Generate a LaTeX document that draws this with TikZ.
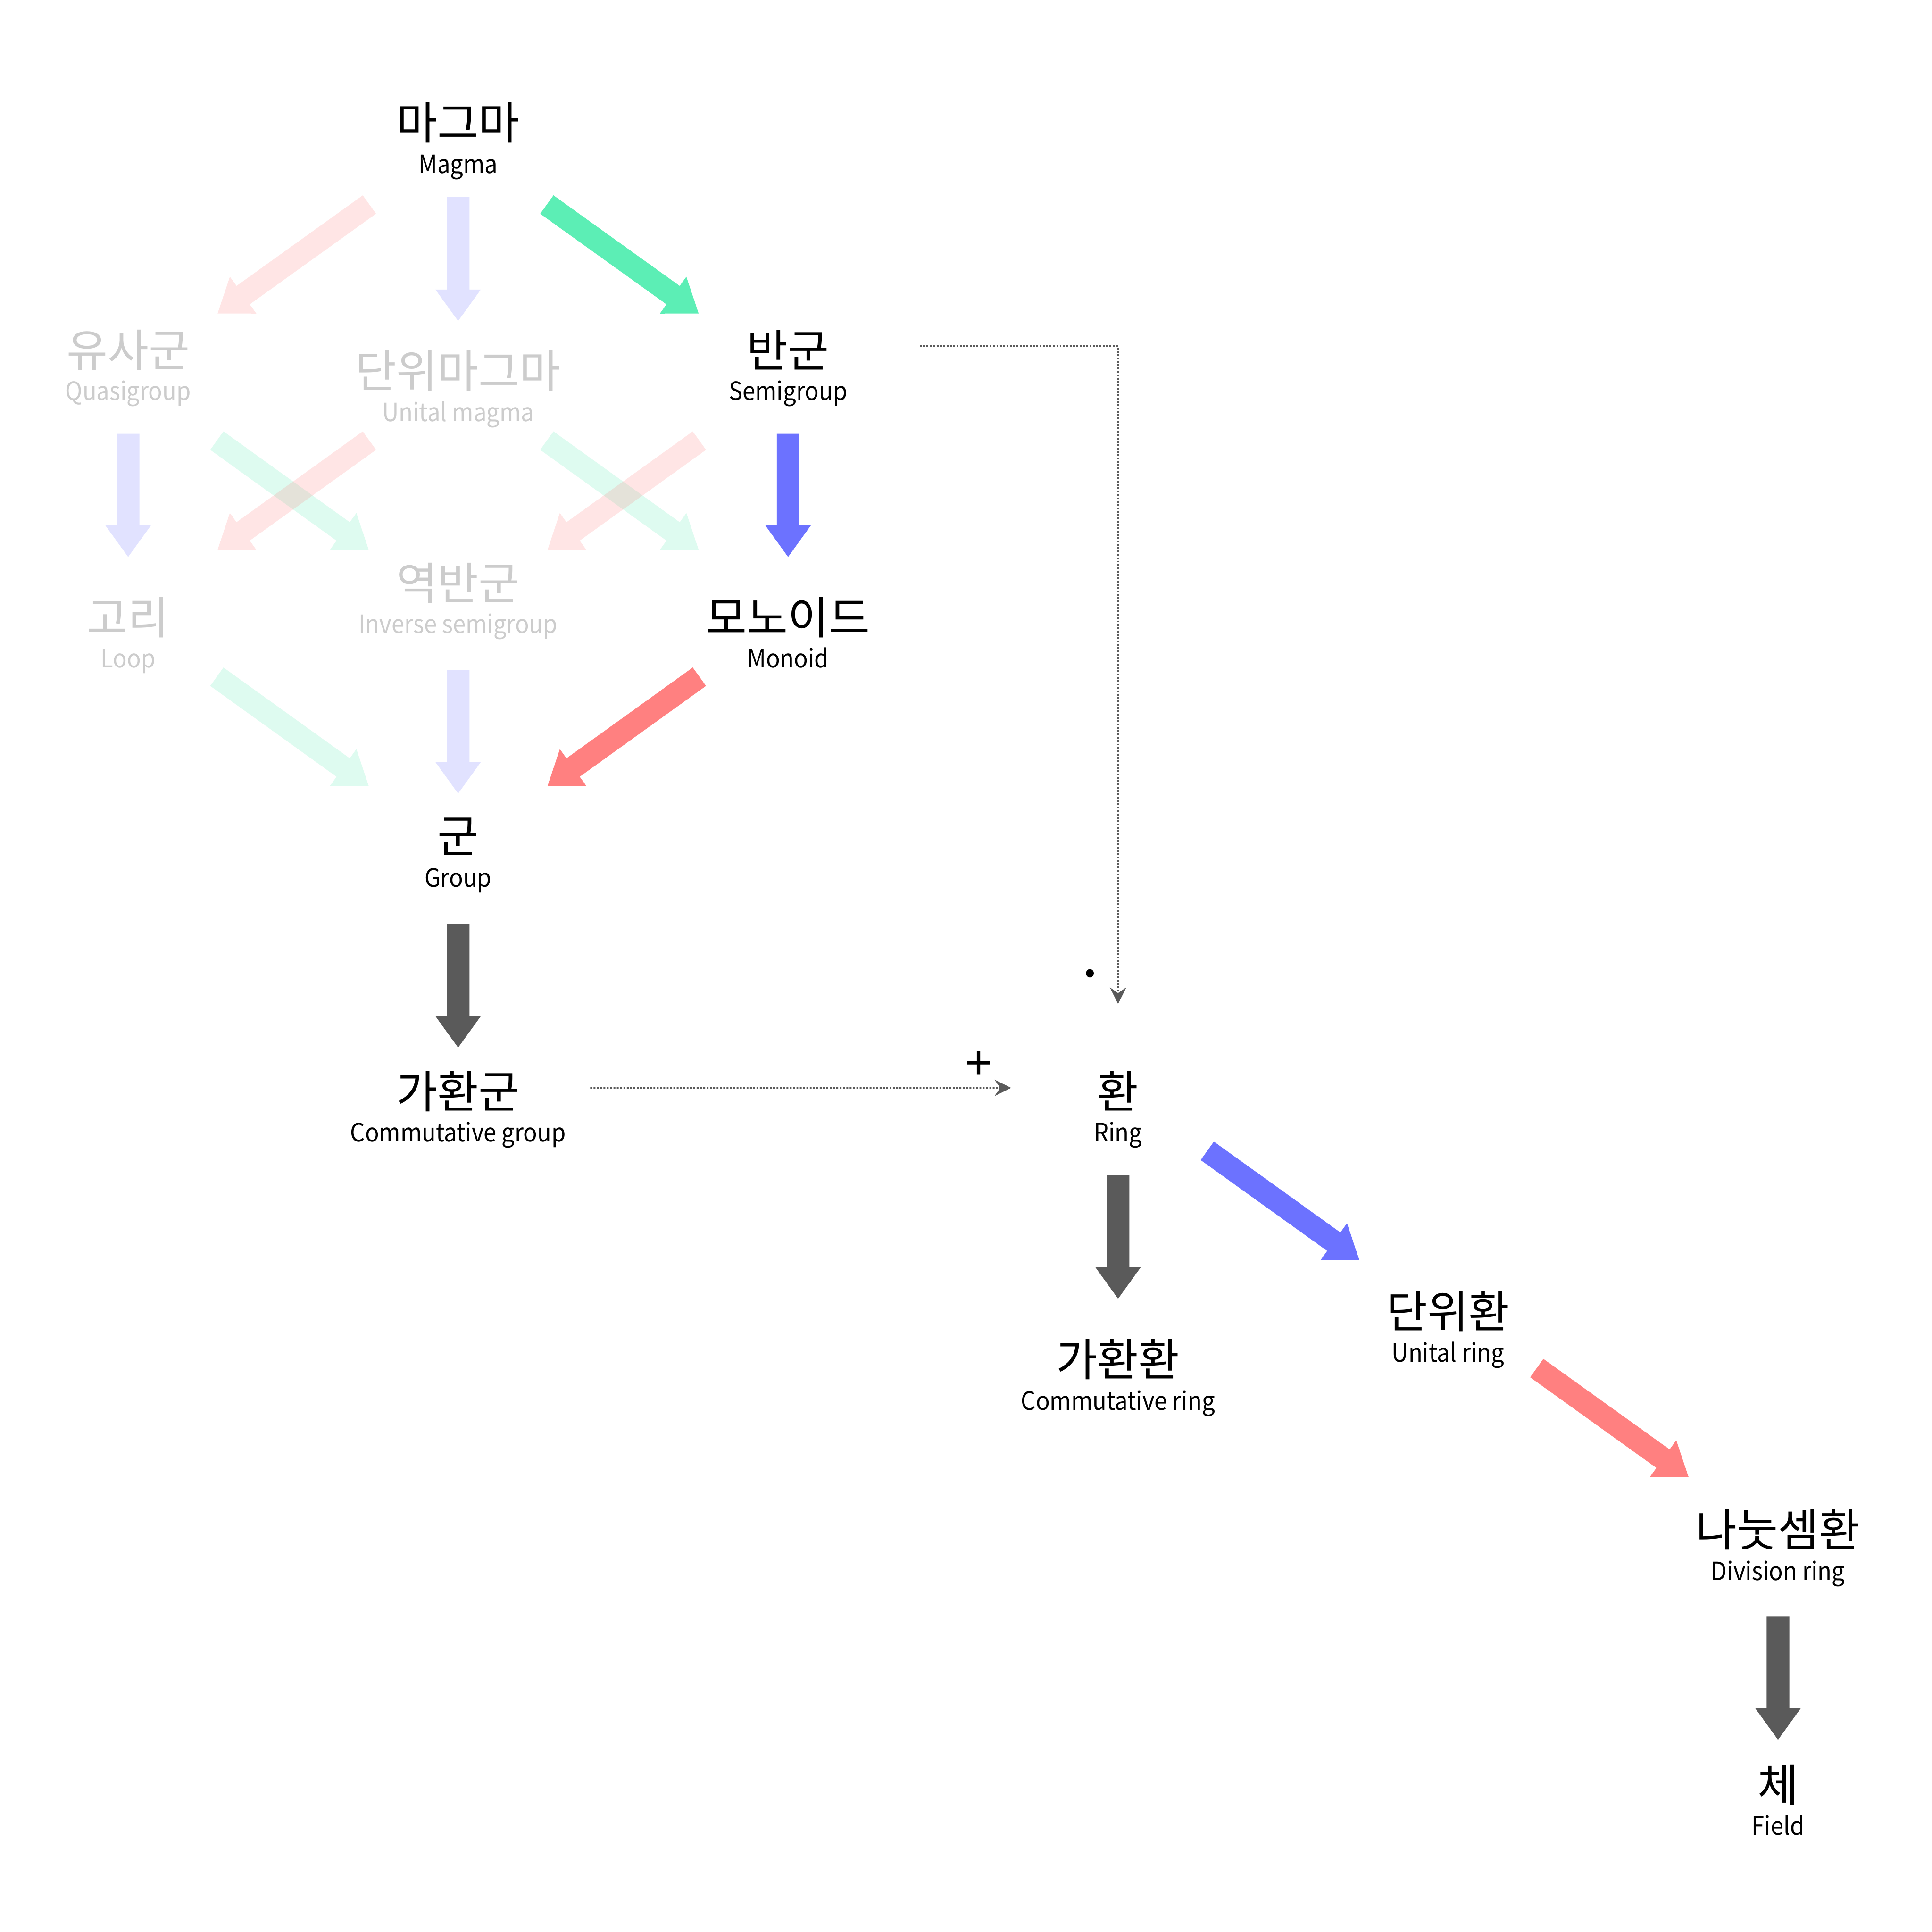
\documentclass[tikz,border=0pt]{standalone}
\usepackage{fontspec}
\setmainfont{Noto Sans CJK KR}
\newfontfamily\enfont[FakeStretch=0.915]{Noto Sans CJK KR}
\usetikzlibrary{calc,arrows.meta}
\definecolor{cred}{RGB}{255,128,128}
\definecolor{cblue}{RGB}{108,114,255}
\definecolor{cgreen}{RGB}{92,238,181}
\definecolor{cgray}{RGB}{90,90,90}
\definecolor{ctext}{RGB}{204,204,204}
\newcommand\fatarrow[3]{%
  \coordinate (fa-a) at #2;
  \coordinate (fa-b) at #3;
  \coordinate (fa-c) at ($(fa-b)!12.75pt!(fa-a)$);
  \fill[#1] ($(fa-a)!4.6pt!90:(fa-b)$) -- ($(fa-c)!4.6pt!90:(fa-b)$)
     -- ($(fa-c)!9.2pt!90:(fa-b)$) -- (fa-b) -- ($(fa-c)!9.2pt!-90:(fa-b)$)
     -- ($(fa-c)!4.6pt!-90:(fa-b)$) -- ($(fa-a)!4.6pt!-90:(fa-b)$) -- cycle;}
\tikzset{
  kr/.style={font=\fontsize{18.1}{20}\selectfont, inner sep=0pt, anchor=center},
  en/.style={font=\enfont\fontsize{10.25}{12}\selectfont, inner sep=0pt, anchor=base},
  faint/.style={text=ctext},
  pale/.style={fill opacity=0.2},
  dotarrow/.style={draw=cgray, line width=0.7pt, dash pattern=on 0.75pt off 0.6pt,
     -{Stealth[length=6.75pt,width=6.7pt,inset=2.35pt,line width=0pt]}}
}
\begin{document}
\begin{tikzpicture}[x=0.5pt,y=-0.5pt]
\fill[white] (0,0) rectangle (1568,1568);
\useasboundingbox (0,0) rectangle (1568,1568);
% Korean names
\node[kr] (magma) at (371.8,99.6) {마그마};
\node[kr,faint] (quasi) at (104,284) {유사군};
\node[kr,faint] (unimag) at (371.8,301) {단위마그마};
\node[kr] (semi) at (639.6,284) {반군};
\node[kr,faint] (loop) at (104,501) {고리};
\node[kr,faint] (invsemi) at (371.8,473) {역반군};
\node[kr] (monoid) at (639.6,501) {모노이드};
\node[kr] (group) at (371.8,679) {군};
\node[kr] (cgroup) at (371.8,885.6) {가환군};
\node[kr] (ring) at (907.4,885.6) {환};
\node[kr] (cring) at (907.4,1103.3) {가환환};
\node[kr] (uring) at (1175.2,1064.3) {단위환};
\node[kr] (dring) at (1443,1241.5) {나눗셈환};
\node[kr] (field) at (1443,1448.5) {체};
% English names
\node[en] (magmaE) at (371.8,140.6) {Magma};
\node[en,faint] (quasiE) at (104,325) {Quasigroup};
\node[en,faint] (unimagE) at (371.8,342) {Unital magma};
\node[en] (semiE) at (639.6,325) {Semigroup};
\node[en,faint] (loopE) at (104,542) {Loop};
\node[en,faint] (invsemiE) at (371.8,514) {Inverse semigroup};
\node[en] (monoidE) at (639.6,542) {Monoid};
\node[en] (groupE) at (371.8,720) {Group};
\node[en] (cgroupE) at (371.8,926.6) {Commutative group};
\node[en] (ringE) at (907.4,926.6) {Ring};
\node[en] (cringE) at (907.4,1144.3) {Commutative ring};
\node[en] (uringE) at (1175.2,1105.3) {Unital ring};
\node[en] (dringE) at (1443,1282.5) {Division ring};
\node[en] (fieldE) at (1443,1489.5) {Field};
% faded arrows
\fatarrow{cred,pale}{([shift={(-72,66.4)}]magma.center)}{([shift={(72.6,-29.6)}]quasi.center)}
\fatarrow{cblue,pale}{([shift={(0,60.4)}]magma.center)}{([shift={(0,-40.5)}]unimag.center)}
\fatarrow{cblue,pale}{([shift={(0,68)}]quasi.center)}{([shift={(0,-49)}]loop.center)}
\fatarrow{cgreen,pale}{([shift={(72,73.6)}]quasi.center)}{([shift={(-72.6,-26.8)}]invsemi.center)}
\fatarrow{cred,pale}{([shift={(-72,56.6)}]unimag.center)}{([shift={(72.6,-54.8)}]loop.center)}
\fatarrow{cgreen,pale}{([shift={(72,56.6)}]unimag.center)}{([shift={(-72.6,-54.8)}]monoid.center)}
\fatarrow{cred,pale}{([shift={(-72,73.6)}]semi.center)}{([shift={(72.6,-26.8)}]invsemi.center)}
\fatarrow{cgreen,pale}{([shift={(72,48.2)}]loop.center)}{([shift={(-72.6,-41.2)}]group.center)}
\fatarrow{cblue,pale}{([shift={(0,71)}]invsemi.center)}{([shift={(0,-35)}]group.center)}
% strong arrows
\fatarrow{cgreen}{([shift={(72,66.4)}]magma.center)}{([shift={(-72.6,-29.6)}]semi.center)}
\fatarrow{cblue}{([shift={(0,68)}]semi.center)}{([shift={(0,-49)}]monoid.center)}
\fatarrow{cred}{([shift={(-72,48.2)}]monoid.center)}{([shift={(72.6,-41.2)}]group.center)}
\fatarrow{cgray}{([shift={(0,70.6)}]group.center)}{([shift={(0,-35.4)}]cgroup.center)}
\fatarrow{cgray}{([shift={(0,68.4)}]ring.center)}{([shift={(0,-49.3)}]cring.center)}
\fatarrow{cblue}{([shift={(72.4,48.4)}]ring.center)}{([shift={(-72,-41.7)}]uring.center)}
\fatarrow{cred}{([shift={(72,46)}]uring.center)}{([shift={(-72.6,-42.8)}]dring.center)}
\fatarrow{cgray}{([shift={(0,70.5)}]dring.center)}{([shift={(0,-36.5)}]field.center)}
% dotted connectors
\draw[dotarrow] ([shift={(107,-3)}]semi.center) -| ([shift={(0,-70.8)}]ring.center);
\draw[dotarrow] ([shift={(107.2,-2.6)}]cgroup.center) -- ([shift={(-86.8,-2.7)}]ring.center);
\node[kr,font=\fontsize{24}{26}\selectfont] (dotlbl) at (885,797) {·};
\node[kr,font=\fontsize{19}{21}\selectfont] (pluslbl) at (794.2,865) {+};
\end{tikzpicture}
\end{document}
